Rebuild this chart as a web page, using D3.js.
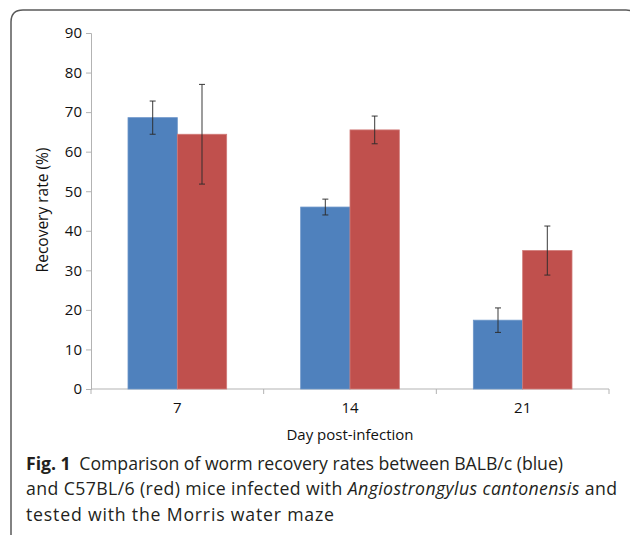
<!DOCTYPE html>
<html>
<head>
<meta charset="utf-8">
<script src="https://cdn.jsdelivr.net/npm/d3@7"></script>
<style>
  body { margin: 0; background: #fff; }
  svg { display: block; }
</style>
</head>
<body>
<div id="chart"></div>
<script>
// data
const days = ["7", "14", "21"];
const strains = ["BALB/c", "C57BL/6"];
const balbMean = [68.6, 46.0, 17.4];
const balbErr = [4.2, 2.0, 3.1];
const c57Mean = [64.4, 65.5, 35.0];
const c57Err = [12.6, 3.5, 6.2];
const yTicks = [0, 10, 20, 30, 40, 50, 60, 70, 80, 90];

const colors = ["#4f81bd", "#c0504d"];
const strokes = ["#6d96c9", "#d07a78"];
const font = "Open Sans, sans-serif";

let rows = [];
days.forEach(function (d, i) {
  rows.push({ day: d, strain: strains[0], mean: balbMean[i], err: balbErr[i], s: 0 });
  rows.push({ day: d, strain: strains[1], mean: c57Mean[i], err: c57Err[i], s: 1 });
});

let svg = d3
  .select("#chart")
  .append("svg")
  .attr("width", 630)
  .attr("height", 535);

// frame around the figure
svg
  .append("path")
  .attr("d", "M11,540 L11,22 Q11,10 23,10 L626,10 Q636,10 638,20")
  .attr("fill", "none")
  .attr("stroke", "#5a5a5a")
  .attr("stroke-width", 1.5);

// scales
let x0 = d3.scaleBand().domain(days).range([91, 609]);
let x1 = d3.scaleBand().domain(strains).range([37, x0.bandwidth() - 37]);
let y = d3.scaleLinear().domain([0, 90]).range([389, 33]);

// y axis
let yAxis = svg
  .append("g")
  .attr("transform", "translate(91,0)")
  .call(d3.axisLeft(y).tickValues(yTicks).tickSize(5).tickPadding(4));
yAxis.select(".domain").attr("stroke", "#b3b3b3");
yAxis.selectAll(".tick line").attr("stroke", "#b3b3b3");
yAxis
  .selectAll(".tick text")
  .style("font-family", font)
  .style("font-size", "15px")
  .attr("fill", "#111");

// x axis with separators between categories
let xAxis = svg.append("g").attr("transform", "translate(0,389)");
xAxis
  .append("line")
  .attr("x1", 91)
  .attr("x2", 609)
  .attr("stroke", "#b3b3b3");
xAxis
  .selectAll(".sep")
  .data(days.concat(["end"]))
  .enter()
  .append("line")
  .attr("x1", function (d, i) {
    return i < days.length ? x0(d) : x0.range()[1];
  })
  .attr("x2", function (d, i) {
    return i < days.length ? x0(d) : x0.range()[1];
  })
  .attr("y1", 0)
  .attr("y2", 5)
  .attr("stroke", "#b3b3b3");
xAxis
  .selectAll(".lbl")
  .data(days)
  .enter()
  .append("text")
  .attr("x", function (d) {
    return x0(d) + x0.bandwidth() / 2;
  })
  .attr("y", 24)
  .attr("text-anchor", "middle")
  .style("font-family", font)
  .style("font-size", "15px")
  .attr("fill", "#111")
  .text(function (d) {
    return d;
  });

// bars
svg
  .append("g")
  .selectAll("rect")
  .data(rows)
  .enter()
  .append("rect")
  .attr("x", function (d) {
    return x0(d.day) + x1(d.strain);
  })
  .attr("width", x1.bandwidth())
  .attr("y", function (d) {
    return y(d.mean);
  })
  .attr("height", function (d) {
    return y(0) - y(d.mean);
  })
  .attr("fill", function (d) {
    return colors[d.s];
  })
  .attr("stroke", function (d) {
    return strokes[d.s];
  })
  .attr("stroke-width", 0.8);

// error bars
let eb = svg
  .append("g")
  .selectAll("g")
  .data(rows)
  .enter()
  .append("g")
  .attr("stroke", "#2b2b2b")
  .attr("stroke-opacity", 0.85)
  .attr("stroke-width", 1.1);

function cx(d) {
  return x0(d.day) + x1(d.strain) + x1.bandwidth() / 2;
}

eb.append("line")
  .attr("x1", cx)
  .attr("x2", cx)
  .attr("y1", function (d) {
    return y(d.mean + d.err);
  })
  .attr("y2", function (d) {
    return y(d.mean - d.err);
  });
[1, -1].forEach(function (sgn) {
  eb.append("line")
    .attr("x1", function (d) {
      return cx(d) - 3;
    })
    .attr("x2", function (d) {
      return cx(d) + 3;
    })
    .attr("y1", function (d) {
      return y(d.mean + sgn * d.err);
    })
    .attr("y2", function (d) {
      return y(d.mean + sgn * d.err);
    });
});

// axis titles
svg
  .append("text")
  .attr("transform", "translate(47.5,210) rotate(-90)")
  .attr("text-anchor", "middle")
  .style("font-family", font)
  .style("font-size", "15.5px")
  .attr("fill", "#111")
  .text("Recovery rate (%)");

svg
  .append("text")
  .attr("x", 350)
  .attr("y", 440)
  .attr("text-anchor", "middle")
  .style("font-family", font)
  .style("font-size", "15px")
  .attr("fill", "#111")
  .text("Day post-infection");

// caption
let cap = svg
  .append("text")
  .style("font-family", font)
  .style("font-size", "17.7px")
  .attr("fill", "#231f20");

let l1 = cap
  .append("tspan")
  .attr("x", 26)
  .attr("y", 469.5)
  .attr("textLength", 537)
  .attr("lengthAdjust", "spacing");
l1.append("tspan").attr("font-weight", "bold").text("Fig. 1");
l1.append("tspan").text("\u2002Comparison of worm recovery rates between BALB/c (blue)");

let l2 = cap
  .append("tspan")
  .attr("x", 26)
  .attr("y", 495)
  .attr("textLength", 591)
  .attr("lengthAdjust", "spacing");
l2.append("tspan").text("and C57BL/6 (red) mice infected with ");
l2.append("tspan").attr("font-style", "italic").text("Angiostrongylus cantonensis");
l2.append("tspan").text(" and");

cap
  .append("tspan")
  .attr("x", 26)
  .attr("y", 520.5)
  .attr("textLength", 308)
  .attr("lengthAdjust", "spacing")
  .text("tested with the Morris water maze");
</script>
</body>
</html>
